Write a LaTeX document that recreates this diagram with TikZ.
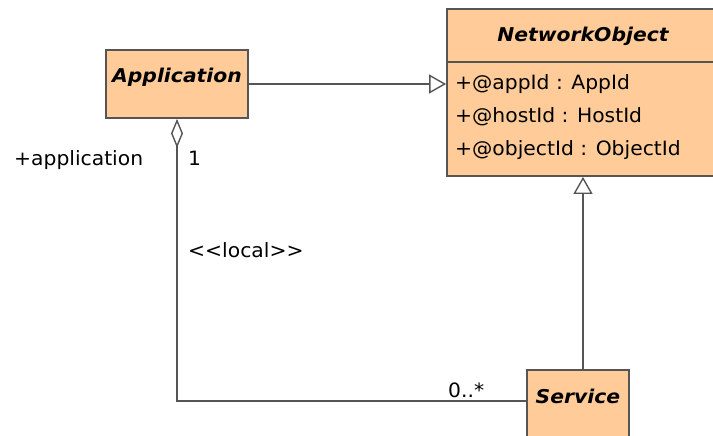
\documentclass[tikz,border=0pt]{standalone}
\usepackage{fontspec}
\setmainfont{DejaVu Sans}[FakeStretch=1.03]
\newfontfamily\titlefont{DejaVu Sans}[FakeStretch=1.07]
\usetikzlibrary{arrows.meta}
\definecolor{classfill}{RGB}{255,204,153}
\definecolor{edge}{RGB}{85,85,85}
\tikzset{
  classbox/.style={draw=edge, line width=1.8pt, fill=classfill, rectangle, inner sep=0pt},
  classname/.style={font=\titlefont\fontsize{19}{22}\selectfont\bfseries\itshape, anchor=base, inner sep=0pt},
  attr/.style={font=\fontsize{19.7}{22}\selectfont, anchor=base west, inner sep=0pt},
  tag/.style={font=\fontsize{19.7}{22}\selectfont, anchor=base west, inner sep=0pt},
  conn/.style={draw=edge, line width=1.6pt},
  inherit/.style={conn, -{Triangle[open, length=17pt, width=19pt, fill=white, line width=1.4pt]}},
  aggreg/.style={conn, -{Diamond[open, length=29pt, width=12pt, fill=white, line width=1.4pt]}}
}
\begin{document}
\begin{tikzpicture}[x=1pt, y=-1pt]
\useasboundingbox (0,0) rectangle (713,436);
\clip (0,0) rectangle (713,436);
\fill[white] (0,0) rectangle (713,436);

% classes
\node[classbox, minimum width=142pt, minimum height=68pt] (app) at (177,84) {};
\node[classbox, minimum width=273pt, minimum height=167pt] (net) at (583.5,92.5) {};
\node[classbox, minimum width=102pt, minimum height=80pt] (svc) at (578,410) {};
\draw[draw=edge, line width=1.8pt] (net.west |- 0,62) coordinate (divL) -- (net.east |- 0,62) coordinate (divR);

% class names
\node[classname] (appname) at (177,83) {Application};
\node[classname] (netname) at (583,42) {NetworkObject};
\node[classname] (svcname) at (578,403) {Service};

% attributes
\node[attr] (a1) at (455,89) {+@appId : AppId};
\node[attr] (a2) at (455,122) {+@hostId : HostId};
\node[attr] (a3) at (455,155) {+@objectId : ObjectId};

% generalizations
\draw[inherit] (app.east) -- (net.west |- app.east);
\coordinate (svctop) at (583,370);
\draw[inherit] (svctop) -- (svctop |- net.south);

% aggregation with a bend
\coordinate (svcside) at (527,401);
\coordinate (bend) at (177,401);
\draw[aggreg] (svcside) -- (bend) -- (app.south);

% association labels
\node[tag] (role) at (14,165) {+application};
\node[tag] (mult1) at (188,165) {1};
\node[tag] (stereo) at (188,257) {<{}<local>{}>};
\node[tag] (multn) at (448,397) {0..*};
\end{tikzpicture}
\end{document}
